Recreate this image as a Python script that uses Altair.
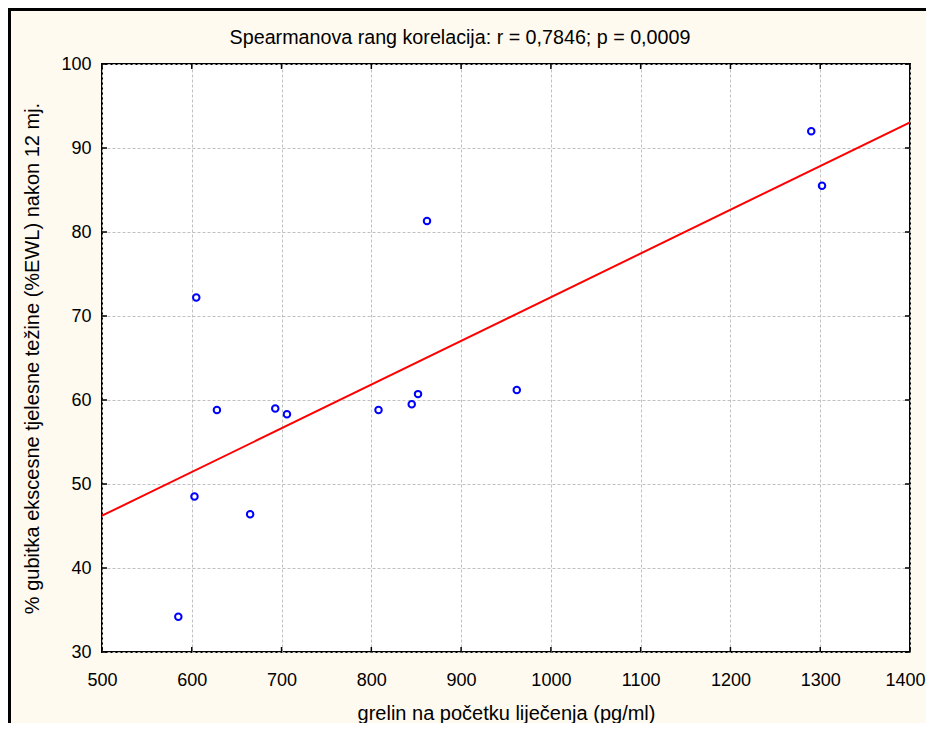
import altair as alt
import pandas as pd

grelin = [585, 605, 603, 628, 665, 693, 706, 808, 845, 852, 862, 962, 1290, 1302]
ewl = [34.2, 72.2, 48.5, 58.8, 46.4, 59.0, 58.3, 58.8, 59.5, 60.7, 81.3, 61.2, 92.0, 85.5]
x_ticks = [500, 600, 700, 800, 900, 1000, 1100, 1200, 1300, 1400]
y_ticks = [30, 40, 50, 60, 70, 80, 90, 100]
title_text = ["Spearmanova rang korelacija: r = 0,7846; p = 0,0009"]

FONT = "Liberation Sans Narrow, Arial Narrow, Liberation Sans, Arial"
W, H = 808, 588
PL, PT = 94, 56
TOTAL_W, TOTAL_H = 918, 715

df = pd.DataFrame({"grelin": grelin, "ewl": ewl})
xt = pd.DataFrame({"grelin": x_ticks})
yt = pd.DataFrame({"ewl": y_ticks})
tt = pd.DataFrame({"t": title_text})

xdef = alt.X("grelin:Q",
             scale=alt.Scale(domain=[500, 1400], nice=False, zero=False),
             axis=alt.Axis(values=x_ticks, format="d", title="grelin na početku liječenja (pg/ml)",
                           labelPadding=19, titlePadding=14, labelFlush=False, labelOverlap=False,
                           labelOffset={"condition": {"test": "datum.value == 1400", "value": -5},
                                        "value": 0}))
ydef = alt.Y("ewl:Q",
             scale=alt.Scale(domain=[30, 100], nice=False, zero=False),
             axis=alt.Axis(values=y_ticks, format="d",
                           title="% gubitka ekscesne tjelesne težine (%EWL) nakon 12 mj.",
                           labelPadding=11, titlePadding=18, labelFlush=False, labelOverlap=False))

points = alt.Chart(df).mark_point(shape="circle", filled=False, color="#0000FF",
                                  size=42, strokeWidth=2, opacity=1).encode(x=xdef, y=ydef)

reg = alt.Chart(df).transform_regression(
    "grelin", "ewl", extent=[500, 1400]
).mark_line(color="#FF0000", strokeWidth=2, clip=True).encode(x=xdef, y=ydef)

bottom_ticks = alt.Chart(xt).mark_rule(color="black", strokeWidth=1.5).encode(
    x=xdef, y=alt.value(H), y2=alt.value(H - 5))
top_ticks = alt.Chart(xt).mark_rule(color="black", strokeWidth=1.5).encode(
    x=xdef, y=alt.value(0), y2=alt.value(5))
left_ticks = alt.Chart(yt).mark_rule(color="black", strokeWidth=1.5).encode(
    y=ydef, x=alt.value(0), x2=alt.value(5))
right_ticks = alt.Chart(yt).mark_rule(color="black", strokeWidth=1.5).encode(
    y=ydef, x=alt.value(W), x2=alt.value(W - 5))

frame_left = alt.Chart(xt).mark_rule(color="black", strokeWidth=3).encode(
    x=alt.value(-PL + 1.5), y=alt.value(-PT), y2=alt.value(TOTAL_H))
frame_top = alt.Chart(xt).mark_rule(color="black", strokeWidth=3).encode(
    y=alt.value(-PT + 1.5), x=alt.value(-PL), x2=alt.value(TOTAL_W))

title = alt.Chart(tt).mark_text(font=FONT, fontSize=19.7, color="black",
                                align="center", baseline="middle").encode(
    text="t:N", x=alt.value(358), y=alt.value(-26))

chart = alt.layer(
    reg, points, bottom_ticks, top_ticks, left_ticks, right_ticks, frame_left, frame_top, title
).properties(
    width=W, height=H,
    autosize=alt.AutoSizeParams(type="none"),
    padding={"left": PL, "top": PT, "right": TOTAL_W - PL - W, "bottom": TOTAL_H - PT - H},
    background="#FFFAEF",
).configure_view(
    stroke="black", strokeWidth=2, fill="white"
).configure_axis(
    domain=False, ticks=False, grid=True, gridColor="#C0C0C0", gridDash=[3, 2],
    gridWidth=1, labelFont=FONT, labelFontSize=18, labelColor="black",
    titleFont=FONT, titleFontSize=20, titleFontWeight="normal", titleColor="black"
)

chart.save("out.html", embed_options={"renderer": "svg", "actions": False})
